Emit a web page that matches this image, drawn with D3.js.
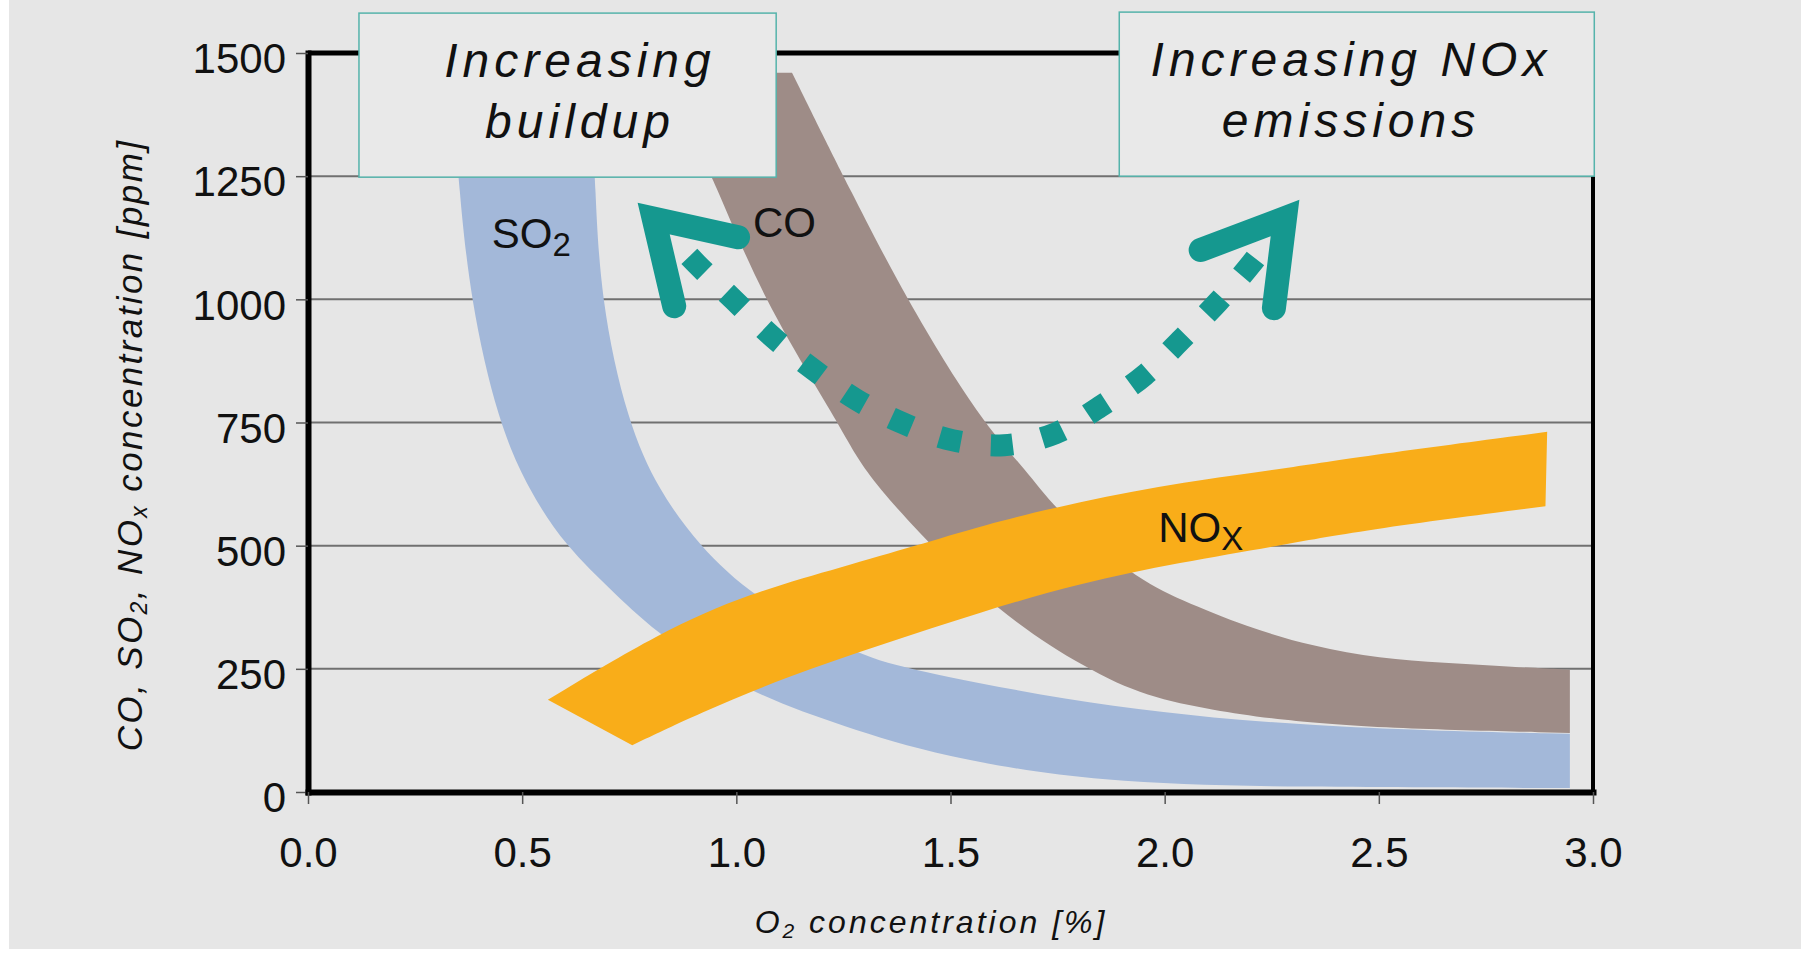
<!DOCTYPE html>
<html><head><meta charset="utf-8">
<script src="https://cdn.jsdelivr.net/npm/d3@7"></script>
<style>
html,body{margin:0;padding:0;background:#fff;}
svg{display:block;}
</style></head><body>
<svg id="chart" width="1801" height="953"></svg>
<script>
// ---------- DATA ----------
const xTicks = [0, 0.5, 1, 1.5, 2, 2.5, 3];
const xTickLabels = ["0.0", "0.5", "1.0", "1.5", "2.0", "2.5", "3.0"];
const yTicks = [0, 250, 500, 750, 1000, 1250, 1500];
const yTickLabels = ["0", "250", "500", "750", "1000", "1250", "1500"];

// band edges: [O2 %, ppm]
const so2Lower = [[0.345,1330],[0.351,1246],[0.378,1000],[0.444,750],[0.515,613],[0.600,500],[0.716,403],[0.823,315],[1.029,201],[1.252,133],[1.476,72],[1.849,18],[2.3,10],[2.946,8]];
const so2Upper = [[0.665,1330],[0.670,1246],[0.682,1000],[0.746,750],[0.818,613],[0.913,500],[1.038,396],[1.270,282],[1.398,250],[1.647,207],[1.880,173],[2.114,150],[2.35,135],[2.6,125],[2.946,118]];
const coLower = [[0.815,1460],[0.911,1303],[0.946,1246],[1.062,1000],[1.238,750],[1.296,653],[1.413,538],[1.608,366],[1.818,249],[1.958,193],[2.114,166],[2.269,146],[2.503,129],[2.946,120]];
const coUpper = [[1.13,1460],[1.219,1303],[1.25,1250],[1.396,1000],[1.573,750],[1.678,653],[1.748,569],[1.927,437],[2.036,390],[2.192,335],[2.347,295],[2.503,271],[2.65,262],[2.816,254],[2.946,248]];
const noxUpper = [[0.560,187],[0.823,325],[1.029,403],[1.252,458],[1.42,500],[1.569,540],[1.80,590],[2.05,630],[2.27,655],[2.45,680],[2.893,731]];
const noxLower = [[0.757,95],[0.913,160],[1.118,234],[1.342,300],[1.569,365],[1.802,424],[2.036,466],[2.269,500],[2.45,530],[2.889,580]];

const seriesMain = ["SO", "CO", "NO"];
const seriesSub = ["2", "", "X"];

// trend annotation (dotted curve + two chevron arrows)
const trendCurve = [[0.807,1164],[0.906,1073],[0.994,999],[1.088,921],[1.182,856],[1.281,796],[1.390,748],[1.505,714],[1.625,704],[1.745,728],[1.849,782],[1.953,846],[2.042,921],[2.125,995],[2.203,1073],[2.281,1165]];
const arrowLeft = [[1.004,1126],[0.807,1164],[0.855,986]];
const arrowRight = [[2.084,1100],[2.281,1165],[2.255,982]];

const boxLines = [["Increasing", "buildup"], ["Increasing NOx", "emissions"]];

// ---------- LAYOUT ----------
const W = 1801, H = 953;
const FONT = "'Liberation Sans', Arial, Helvetica, sans-serif";
const x = d3.scaleLinear().domain([0, 3]).range([308, 1593]);
const y = d3.scaleLinear().domain([0, 1500]).range([792, 53]);
const colors = {so2: "#a3b8d9", co: "#9e8c87", nox: "#f9ad19", teal: "#15988f", grid: "#707070", bg: "#e6e6e6"};

const svg = d3.select("#chart");
svg.append("rect").attr("width", W).attr("height", H).attr("fill", "#fff");
svg.append("rect").attr("x", 9).attr("y", 0).attr("width", W - 9).attr("height", H - 4).attr("fill", colors.bg);

// gridlines
svg.append("g").selectAll("line")
  .data(yTicks.filter(d => d > 0 && d < 1500)).join("line")
  .attr("x1", x(0)).attr("x2", x(3))
  .attr("y1", d => y(d)).attr("y2", d => y(d))
  .attr("stroke", colors.grid).attr("stroke-width", 2);

// bands
const edge = d3.line().x(d => x(d[0])).y(d => y(d[1])).curve(d3.curveBasis);
function band(a, b) { return edge(a) + edge(b.slice().reverse()).replace(/^M/, "L") + "Z"; }
const gBands = svg.append("g");
gBands.append("path").attr("d", band(so2Lower, so2Upper)).attr("fill", colors.so2);
gBands.append("path").attr("d", band(coLower, coUpper)).attr("fill", colors.co);
gBands.append("path").attr("d", band(noxUpper, noxLower)).attr("fill", colors.nox);

// frame top/right
svg.append("line").attr("x1", x(0)).attr("x2", x(3) + 2).attr("y1", y(1500)).attr("y2", y(1500))
  .attr("stroke", "#000").attr("stroke-width", 5);
svg.append("line").attr("x1", x(3)).attr("x2", x(3)).attr("y1", y(1500)).attr("y2", y(0))
  .attr("stroke", "#000").attr("stroke-width", 4);

// axes
const yAxis = d3.axisLeft(y).tickValues(yTicks).tickFormat((d, i) => yTickLabels[i])
  .tickSize(12).tickSizeOuter(0).tickPadding(10);
const gy = svg.append("g").attr("transform", `translate(${x(0)},0)`).call(yAxis);
const xAxis = d3.axisBottom(x).tickValues(xTicks).tickFormat((d, i) => xTickLabels[i])
  .tickSize(12).tickSizeOuter(0);
const gx = svg.append("g").attr("transform", `translate(0,${y(0)})`).call(xAxis);
[gx, gy].forEach(g => {
  g.select(".domain").attr("stroke", "#000").attr("stroke-width", 6).attr("stroke-linecap", "square");
  g.selectAll(".tick line").attr("stroke", "#555").attr("stroke-width", 1.5);
  g.selectAll(".tick text").attr("font-size", 42).attr("font-family", FONT).attr("fill", "#111");
});
gy.selectAll(".tick text").attr("dy", "0.47em");
gx.selectAll(".tick text").attr("y", 75).attr("dy", 0);

// rich text helper
function rich(sel, parts, size, subSize, subDy, subDx) {
  parts.forEach(p => {
    if (!p.sub) {
      sel.append("tspan").text(p.t).attr("font-size", size).attr("dy", p.after ? -subDy : null);
    } else {
      sel.append("tspan").text(p.t).attr("font-size", subSize).attr("dy", subDy).attr("dx", subDx || null);
    }
  });
}

// axis titles
const yt = svg.append("text")
  .attr("transform", `translate(142,445) rotate(-90)`)
  .attr("text-anchor", "middle").attr("font-family", FONT).attr("font-style", "italic")
  .attr("letter-spacing", 2.4).attr("fill", "#111");
rich(yt, [{t: "CO, SO"}, {t: "2", sub: true}, {t: ", NO", after: true}, {t: "x", sub: true}, {t: " concentration [ppm]", after: true}], 35, 23, 5);

const xt = svg.append("text")
  .attr("x", 931).attr("y", 933).attr("text-anchor", "middle")
  .attr("font-family", FONT).attr("font-style", "italic").attr("letter-spacing", 3).attr("fill", "#111");
rich(xt, [{t: "O"}, {t: "2", sub: true}, {t: " concentration [%]", after: true}], 32, 21, 5);

// trend curve + arrows
const tline = d3.line().x(d => x(d[0])).y(d => y(d[1])).curve(d3.curveCatmullRom.alpha(0.5));
svg.append("path").attr("d", tline(trendCurve)).attr("fill", "none")
  .attr("stroke", colors.teal).attr("stroke-width", 22).attr("stroke-dasharray", "22 30");
const aline = d3.line().x(d => x(d[0])).y(d => y(d[1]));
[arrowLeft, arrowRight].forEach(a => {
  svg.append("path").attr("d", aline(a)).attr("fill", "none").attr("stroke", colors.teal)
    .attr("stroke-width", 24).attr("stroke-linecap", "round").attr("stroke-linejoin", "miter")
    .attr("stroke-miterlimit", 6);
});

// series labels
const labelAnchors = [[0.429, 1104], [1.039, 1126], [1.985, 507]];
seriesMain.forEach((m, i) => {
  const t = svg.append("text").attr("x", x(labelAnchors[i][0])).attr("y", y(labelAnchors[i][1]))
    .attr("font-family", FONT).attr("fill", "#111");
  const parts = [{t: m}];
  if (seriesSub[i]) parts.push({t: seriesSub[i], sub: true});
  rich(t, parts, 42, 33, 8, 0);
});

// boxes
const boxes = [{x0: 0.119, x1: 1.093, v0: 1581, v1: 1248, tx: 0.635}, {x0: 1.894, x1: 3.003, v0: 1583, v1: 1250, tx: 2.435}];
boxes.forEach((b, i) => {
  svg.append("rect").attr("x", x(b.x0)).attr("y", y(b.v0))
    .attr("width", x(b.x1) - x(b.x0)).attr("height", y(b.v1) - y(b.v0))
    .attr("fill", "#e9e9e9").attr("stroke", "#55b3ab").attr("stroke-width", 1.5);
  const t = svg.append("text").attr("font-family", FONT).attr("font-style", "italic")
    .attr("font-size", 48).attr("letter-spacing", 5).attr("text-anchor", "middle").attr("fill", "#111");
  boxLines[i].forEach((ln, j) => {
    t.append("tspan").attr("x", x(b.tx)).attr("y", y(b.v0) + 64 + j * 61).text(ln);
  });
});
</script>
</body></html>
